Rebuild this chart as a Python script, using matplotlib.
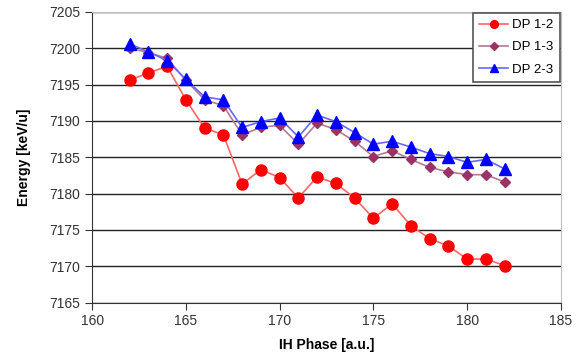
import matplotlib
matplotlib.use("Agg")
import matplotlib.pyplot as plt

plt.rcParams['font.family'] = ['Liberation Sans', 'DejaVu Sans']

# IH phase values
phase = list(range(162, 183))

# Energy in keV/u
dp12 = [7195.6, 7196.6, 7197.5, 7192.9, 7189.0, 7188.1, 7181.3, 7183.3, 7182.2, 7179.4,
        7182.3, 7181.4, 7179.4, 7176.6, 7178.6, 7175.6, 7173.8, 7172.8, 7171.0, 7171.0, 7170.1]
dp13 = [7200.0, 7199.4, 7198.6, 7195.6, 7192.9, 7192.1, 7188.1, 7189.1, 7189.4, 7186.8,
        7189.7, 7188.8, 7187.2, 7185.1, 7185.9, 7184.7, 7183.6, 7183.0, 7182.6, 7182.6, 7181.6]
dp23 = [7200.6, 7199.5, 7198.3, 7195.7, 7193.3, 7192.9, 7189.1, 7189.9, 7190.4, 7187.8,
        7190.8, 7189.9, 7188.4, 7186.8, 7187.2, 7186.4, 7185.5, 7185.1, 7184.3, 7184.7, 7183.4]

fig = plt.figure(figsize=(5.83, 3.59), dpi=100)
ax = fig.add_axes([0.158, 0.157, 0.804, 0.81])

ax.plot(phase, dp12, color="#ff6666", lw=1.2, marker="o", ms=8,
        mfc="#ff0000", mec="#ff0000", label="DP 1-2", zorder=3)
ax.plot(phase, dp13, color="#b27a96", lw=1.2, marker="D", ms=5.5,
        mfc="#993366", mec="#993366", label="DP 1-3", zorder=3)
ax.plot(phase, dp23, color="#6666ff", lw=1.2, marker="^", ms=8,
        mfc="#0000ff", mec="#0000ff", label="DP 2-3", zorder=4)

ax.set_xlim(160, 185)
ax.set_ylim(7165, 7205)
ax.set_xticks(range(160, 186, 5))
ax.set_yticks(range(7165, 7206, 5))
ax.yaxis.grid(True, color="#222222", lw=1)
ax.set_axisbelow(True)

for s in ["top", "right"]:
    ax.spines[s].set_color("#c0c0c0")
for s in ["left", "bottom"]:
    ax.spines[s].set_color("#333333")
ax.tick_params(direction="out", length=5, color="#333333", labelsize=10, labelcolor="#333333")

ax.set_xlabel("IH Phase [a.u.]", fontsize=10, fontweight="bold", labelpad=7)
ax.set_ylabel("Energy [keV/u]", fontsize=10, fontweight="bold", labelpad=13)

leg = ax.legend(loc="upper right", bbox_to_anchor=(1.0, 1.0), fontsize=9.5,
                fancybox=False, framealpha=1, edgecolor="#555555",
                borderaxespad=0.05, handlelength=2.2, labelspacing=0.75,
                markerscale=0.7, handletextpad=0.3, borderpad=0.5)
leg.get_frame().set_linewidth(1.2)

fig.savefig("out.png", dpi=100)
